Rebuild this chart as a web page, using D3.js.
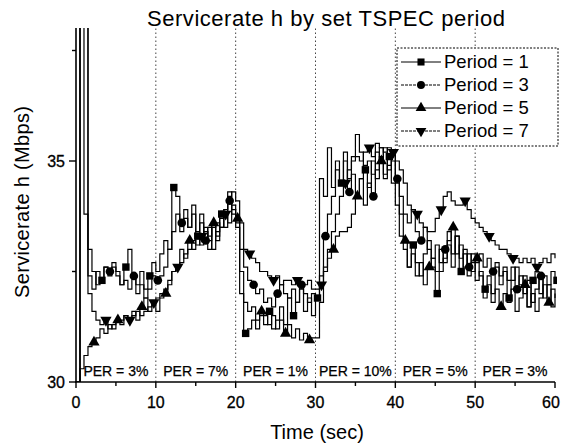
<html>
<head>
<script src="https://d3js.org/d3.v7.min.js"></script>
<style>
  body { margin: 0; background: white; }
  text { font-family: Arial, "Liberation Sans", sans-serif; fill: black; }
</style>
</head>
<body>
<svg id="chart" width="562" height="448"></svg>
<script>
// sample times (sec), one value every 0.5 s
const times = d3.range(121).map(i => i / 2);

const seriesNames = ["Period = 1", "Period = 3", "Period = 5", "Period = 7"];

const period1 = [
  30, 39, 33.8, 32.4, 32.1, 32.5, 32.3, 32.6, 32.4, 32.7, 32.5, 32.2, 32.6, 33.0, 32.4, 32.2, 32.5, 32.1, 32.4, 32.7, 32.5,
  32.9, 33.2, 33.0, 34.4, 34.2, 33.4, 33.7, 33.5, 34.0, 33.3, 33.8, 33.4, 33.0, 33.6, 33.2, 33.8, 33.5, 34.3, 33.9, 33.6,
  32.0, 31.1, 31.2, 31.4, 31.2, 31.5, 31.3, 31.6, 31.2, 31.4, 31.7, 31.3, 31.9, 31.5, 31.8, 32.1, 31.6, 31.9, 31.5, 31.9,
  34.6, 34.2, 35.3, 34.4, 35.0, 34.5, 35.2, 34.6, 35.1, 35.6, 35.2, 34.8, 34.4, 35.0, 34.6, 35.3, 34.7, 35.1, 34.5, 34.0,
  33.3, 33.0, 32.6, 33.1, 32.7, 32.4, 32.9, 33.2, 32.6, 32.0, 32.5, 32.8, 33.1, 32.6, 33.3, 32.5, 32.9, 32.4, 32.7, 32.3,
  32.5, 32.1, 32.4, 32.0, 32.6, 32.2, 32.5, 31.9, 32.3, 32.6, 32.2, 32.4, 31.7, 32.3, 32.5, 32.0, 32.4, 32.2, 32.5, 32.3
];
const period3 = [
  30, 39, 39, 33.0, 32.5, 32.2, 32.3, 32.6, 32.5, 32.6, 32.4, 32.2, 32.3, 32.1, 32.4, 32.0, 32.2, 31.9, 32.1, 32.4, 32.3,
  32.4, 32.6, 33.0, 33.4, 33.8, 33.6, 33.9, 33.5, 33.8, 33.4, 33.6, 33.2, 33.5, 33.0, 33.4, 33.7, 33.9, 34.1, 33.8, 33.5,
  33.0, 32.6, 32.3, 32.2, 32.0, 32.1, 31.8, 31.9, 31.7, 32.0, 32.2, 32.0, 31.9, 32.1, 31.8, 32.2, 32.0, 31.8, 32.0, 31.9,
  32.4, 33.3, 33.8, 34.2, 34.8, 34.5, 35.0, 34.3, 34.7, 34.2, 34.6, 34.0, 34.5, 34.2, 34.8, 35.1, 34.6, 34.9, 35.2, 34.6,
  34.2, 33.8, 33.6, 33.9, 33.4, 33.2, 33.5, 33.0, 32.8, 33.1, 32.7, 33.0, 33.4, 32.9, 33.3, 32.8, 33.0, 32.6, 32.9, 32.7,
  32.9, 32.6, 32.8, 32.5, 32.7, 32.4, 32.6, 32.3, 32.6, 32.1, 32.4, 32.0, 32.3, 31.8, 32.1, 32.4, 31.9, 32.2, 31.7, 32.0
];
const period5 = [
  30, 30.3, 30.6, 30.8, 30.9, 31.0, 31.2, 31.1, 31.3, 31.2, 31.4, 31.3, 31.5, 31.4, 31.6, 31.4, 31.7, 31.9, 31.6, 31.8, 31.6,
  31.9, 32.0, 32.3, 32.5, 32.6, 33.0, 32.8, 33.2, 33.0, 33.3, 33.1, 33.5, 33.2, 33.6, 33.3, 33.5, 33.8, 33.6, 34.0, 33.7,
  32.5, 31.8, 31.6, 31.7, 31.4, 31.6, 31.5, 31.3, 31.5, 31.2, 31.4, 31.1, 31.3, 31.0, 31.2, 30.95, 31.1, 30.95, 31.0, 31.0,
  31.8, 32.6, 32.8, 33.0, 33.3, 33.4, 33.4, 33.5, 33.8, 34.2, 34.6, 34.9, 35.0, 34.7, 35.2, 35.0, 35.3, 34.8, 35.0, 34.5,
  33.8, 33.2, 32.6, 32.9, 32.4, 32.7, 32.2, 32.6, 32.8, 32.5, 33.0, 32.7, 33.2, 33.5, 32.9, 33.1, 32.6, 32.9, 32.5, 32.8,
  32.4, 31.9, 32.2, 31.8, 32.1, 31.7, 32.0, 31.8, 32.1, 31.6, 31.9, 32.2, 31.7, 32.0, 31.6, 31.9, 32.2, 31.8, 32.1, 31.9
];
const period7 = [
  30, 39, 39, 32.0, 31.6, 31.4, 31.3, 31.4, 31.2, 31.3, 31.4, 31.4, 31.5, 31.4, 31.5, 31.6, 31.5, 31.6, 31.7, 31.8, 31.9,
  32.0, 32.1, 32.2, 32.5, 32.6, 32.7, 32.9, 33.0, 33.2, 33.1, 33.3, 33.4, 33.3, 33.5, 33.6, 33.5, 33.8, 34.2, 34.3, 34.1,
  33.6, 33.0, 32.9, 32.8, 32.7, 32.5, 32.5, 32.4, 32.3, 32.4, 32.2, 32.3, 32.3, 32.2, 32.3, 32.2, 32.2, 32.3, 32.1, 32.1,
  32.2, 32.5, 33.0, 33.4, 33.8, 34.2, 34.5, 34.8, 35.0, 35.1, 35.0, 35.2, 35.3, 35.1, 35.4, 35.3, 35.2, 35.3, 35.2, 35.0,
  34.8, 34.5, 34.0, 33.9, 33.8, 33.6, 33.5, 33.4, 33.4, 33.7, 33.9, 34.2, 34.3, 34.1, 34.0, 34.0, 34.1, 33.9, 33.7, 33.6,
  33.5, 33.4, 33.3, 33.2, 33.1, 33.0, 33.0, 32.9, 32.8, 32.8, 32.7, 32.8, 32.7, 32.8, 32.6, 32.7, 32.8, 32.7, 32.9, 32.8
];

const xTicks = [0, 10, 20, 30, 40, 50, 60];
const xMinorTicks = [5, 15, 25, 35, 45, 55];
const yTicks = [30, 35];
const yMinorTicks = [32.5, 37.5];
const perBounds = [10, 20, 30, 40, 50];
const perLabels = ["PER = 3%", "PER = 7%", "PER = 1%", "PER = 10%", "PER = 5%", "PER = 3%"];

const svg = d3.select("#chart");
const margin = {left: 76, right: 7, top: 28, bottom: 66};
const W = 562, H = 448;

const x = d3.scaleLinear().domain([0, 60]).range([margin.left, W - margin.right]);
const y = d3.scaleLinear().domain([30, 38]).range([H - margin.bottom, margin.top + 0.4]);

svg.append("defs").append("clipPath").attr("id", "plotclip")
  .append("rect")
    .attr("x", margin.left).attr("y", margin.top)
    .attr("width", W - margin.left - margin.right + 2)
    .attr("height", H - margin.top - margin.bottom);

// dotted dividers between PER phases
svg.append("g").selectAll("line").data(perBounds).enter().append("line")
  .attr("x1", d => x(d)).attr("x2", d => x(d))
  .attr("y1", y(30)).attr("y2", margin.top)
  .attr("stroke", "#444").attr("stroke-width", 1)
  .attr("stroke-dasharray", "1.5,2.5");

// PER labels
svg.append("g").selectAll("text").data(perLabels).enter().append("text")
  .attr("x", (d, i) => x(i * 10 + 5))
  .attr("y", y(30) - 6)
  .attr("text-anchor", "middle")
  .style("font-size", "14px")
  .style("stroke", "black").style("stroke-width", 0.25)
  .text(d => d);

// series
const allSeries = [period1, period3, period5, period7];
const symbols = [d3.symbolSquare, d3.symbolCircle, d3.symbolTriangle, d3.symbolTriangle];
const rotations = [0, 0, 0, 180];
const markerOffsets = [0, 2, 4, 1];

const line = d3.line()
  .x((d, i) => x(times[i]))
  .y(d => y(d))
  .curve(d3.curveStepAfter);

const plot = svg.append("g").attr("clip-path", "url(#plotclip)");
allSeries.forEach((vals, s) => {
  plot.append("path")
    .datum(vals)
    .attr("fill", "none")
    .attr("stroke", "black")
    .attr("stroke-width", 1.2)
    .attr("d", line);
});

allSeries.forEach((vals, s) => {
  const pts = vals.map((v, i) => ({t: times[i], v: v, i: i}))
    .filter(p => p.i % 6 === markerOffsets[s] && p.v < 37.5 && p.i > 2);
  plot.append("g").selectAll("path").data(pts).enter().append("path")
    .attr("d", d3.symbol().type(symbols[s]).size(s === 1 ? 58 : 55))
    .attr("transform", d => `translate(${x(d.t + 0.25)},${y(d.v)}) rotate(${rotations[s]})`)
    .attr("fill", "black");
});

// axes
const yAxisG = svg.append("g");
yAxisG.append("line")
  .attr("x1", x(0)).attr("x2", x(0)).attr("y1", y(30) + 0.5).attr("y2", margin.top)
  .attr("stroke", "black").attr("stroke-width", 1.6);
yAxisG.selectAll(".maj").data(yTicks).enter().append("line")
  .attr("x1", x(0) - 7).attr("x2", x(0)).attr("y1", d => y(d)).attr("y2", d => y(d))
  .attr("stroke", "black").attr("stroke-width", 1.4);
yAxisG.selectAll(".min").data(yMinorTicks).enter().append("line")
  .attr("x1", x(0) - 4).attr("x2", x(0)).attr("y1", d => y(d)).attr("y2", d => y(d))
  .attr("stroke", "black").attr("stroke-width", 1.4);
yAxisG.selectAll("text").data(yTicks).enter().append("text")
  .attr("x", x(0) - 11).attr("y", d => y(d) + 6)
  .attr("text-anchor", "end")
  .style("font-size", "16px")
  .style("stroke", "black").style("stroke-width", 0.3)
  .text(d => d);

const xAxisG = svg.append("g");
xAxisG.append("line")
  .attr("x1", x(0) - 1).attr("x2", x(60)).attr("y1", y(30)).attr("y2", y(30))
  .attr("stroke", "black").attr("stroke-width", 1.6);
xAxisG.selectAll(".maj").data(xTicks).enter().append("line")
  .attr("x1", d => x(d)).attr("x2", d => x(d)).attr("y1", y(30)).attr("y2", y(30) + 6)
  .attr("stroke", "black").attr("stroke-width", 1.4);
xAxisG.selectAll(".min").data(xMinorTicks).enter().append("line")
  .attr("x1", d => x(d)).attr("x2", d => x(d)).attr("y1", y(30)).attr("y2", y(30) + 4)
  .attr("stroke", "black").attr("stroke-width", 1.4);
xAxisG.selectAll("text").data(xTicks).enter().append("text")
  .attr("x", d => Math.min(x(d), W - 11)).attr("y", y(30) + 26)
  .attr("text-anchor", "middle")
  .style("font-size", "16px")
  .style("stroke", "black").style("stroke-width", 0.3)
  .text(d => d);

// titles
svg.append("text")
  .attr("x", 326).attr("y", 26)
  .attr("text-anchor", "middle")
  .attr("textLength", 358).attr("lengthAdjust", "spacing")
  .style("font-size", "22px")
  .text("Servicerate h by set TSPEC period");

svg.append("text")
  .attr("x", 317).attr("y", 439)
  .attr("text-anchor", "middle")
  .style("font-size", "20px")
  .text("Time (sec)");

svg.append("text")
  .attr("transform", "translate(29,202) rotate(-90)")
  .attr("text-anchor", "middle")
  .attr("textLength", 192).attr("lengthAdjust", "spacing")
  .style("font-size", "20px")
  .text("Servicerate h (Mbps)");

// legend
const lg = svg.append("g").attr("transform", "translate(397,48)");
lg.append("rect")
  .attr("x", 0).attr("y", 0).attr("width", 161).attr("height", 98)
  .attr("fill", "white").attr("stroke", "black").attr("stroke-width", 1)
  .attr("stroke-dasharray", "2,1.5");
seriesNames.forEach((name, s) => {
  const ry = 14 + s * 23;
  lg.append("line")
    .attr("x1", 4).attr("x2", 44).attr("y1", ry).attr("y2", ry)
    .attr("stroke", "black").attr("stroke-width", 1)
    .attr("stroke-dasharray", s % 2 ? "3,1" : null);
  lg.append("path")
    .attr("d", d3.symbol().type(symbols[s]).size(50))
    .attr("transform", `translate(24,${ry}) rotate(${rotations[s]})`)
    .attr("fill", "black");
  lg.append("text")
    .attr("x", 47).attr("y", ry + 6)
    .style("font-size", "18.5px")
    .text(name);
});
</script>
</body>
</html>
